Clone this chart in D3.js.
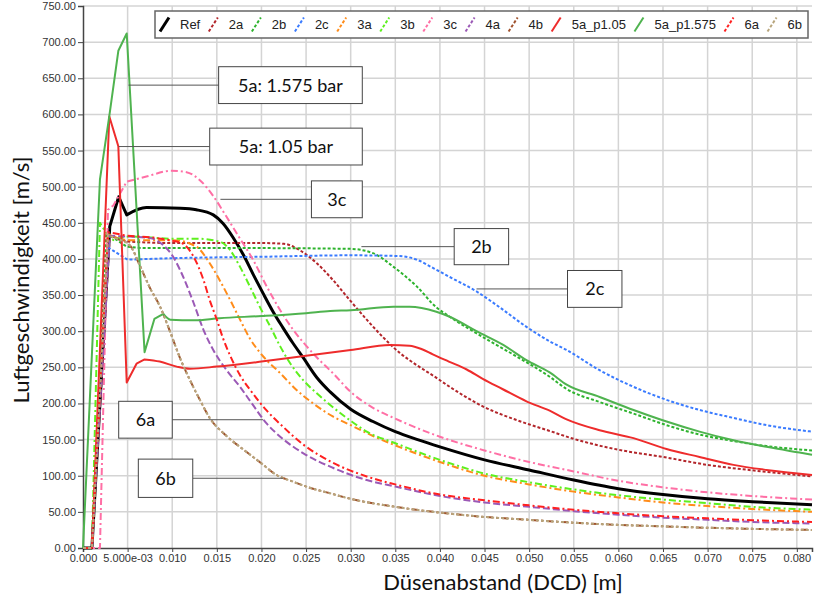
<!DOCTYPE html>
<html>
<head>
<meta charset="utf-8">
<script src="https://cdn.jsdelivr.net/npm/d3@7"></script>
<style>
  html, body { margin: 0; padding: 0; background: #fff; }
  svg { display: block; }
</style>
</head>
<body>
<svg id="chart" width="815" height="606"></svg>
<script>
// Axis ticks and labels
const xTicks = [0, 0.005, 0.010, 0.015, 0.020, 0.025, 0.030, 0.035, 0.040, 0.045, 0.050, 0.055, 0.060, 0.065, 0.070, 0.075, 0.080];
const xTickLabels = ["0.000", "5.000e-03", "0.010", "0.015", "0.020", "0.025", "0.030", "0.035", "0.040", "0.045", "0.050", "0.055", "0.060", "0.065", "0.070", "0.075", "0.080"];
const yTicks = [0, 50, 100, 150, 200, 250, 300, 350, 400, 450, 500, 550, 600, 650, 700, 750];
const yTickLabels = yTicks.map(v => v.toFixed(2));

// Series names (legend order)
const seriesNames = ["Ref", "2a", "2b", "2c", "3a", "3b", "3c", "4a", "4b", "5a_p1.05", "5a_p1.575", "6a", "6b"];

// Air velocity [m/s] over nozzle distance [m], one [x, v] list per series
const ref = [[0,0],[0.001,0],[0.003,445],[0.004,486],[0.0049,461],[0.0071,471],[0.0109,470],[0.0127,468],[0.0146,461],[0.0157,449],[0.0168,430],[0.0180,405],[0.0191,378],[0.0202,352],[0.0213,327],[0.0224,305],[0.0235,284],[0.0247,263],[0.0262,236],[0.0277,216],[0.030,192],[0.0325,175],[0.035,161],[0.0375,150],[0.040,140],[0.045,122],[0.050,108],[0.055,94],[0.060,82],[0.065,74],[0.070,68],[0.075,64],[0.0817,60]];
const s2a = [[0,0],[0.001,0],[0.003,432],[0.005,424],[0.010,422],[0.020,422],[0.0225,421],[0.0243,412],[0.0262,394],[0.0280,371],[0.0299,343],[0.0318,316],[0.0336,292],[0.0355,270],[0.0374,253],[0.0393,238],[0.0411,223],[0.0448,196],[0.0486,177],[0.0523,162],[0.055,151],[0.060,136],[0.065,126],[0.070,115],[0.075,107.5],[0.0817,99]];
const s2b = [[0,0],[0.001,0],[0.0026,436],[0.0049,417],[0.007,415],[0.0187,415],[0.0299,414],[0.0325,408],[0.0348,389],[0.0374,362],[0.0396,333],[0.0411,320],[0.0448,292],[0.0486,265],[0.0523,237],[0.0542,220],[0.0579,202],[0.0617,186],[0.0654,170],[0.0691,157],[0.0729,148],[0.0766,141],[0.0817,135]];
const s2c = [[0,0],[0.001,0],[0.0028,416],[0.005,399],[0.010,401],[0.020,403],[0.030,405],[0.0355,404],[0.0374,399],[0.0393,387],[0.0411,375],[0.0441,355],[0.0467,333],[0.0497,306],[0.0523,286],[0.0542,274],[0.0579,246],[0.0617,223],[0.0654,205],[0.0691,191],[0.0729,180],[0.0766,170],[0.0817,161]];
const s3a = [[0,0],[0.001,0],[0.0028,435],[0.004,428],[0.0055,426],[0.0101,426],[0.0127,417],[0.0142,394],[0.0153,371],[0.0165,343],[0.0176,316],[0.0187,290],[0.0202,265],[0.0221,242],[0.0239,219],[0.0258,200],[0.0280,182],[0.030,170],[0.0325,155],[0.035,142],[0.040,119],[0.045,100],[0.050,88],[0.055,78],[0.060,70],[0.065,63],[0.070,58],[0.075,54],[0.0817,50]];
const s3b = [[0,0],[0.001,0],[0.0019,450],[0.0026,436],[0.0034,426],[0.0053,431],[0.010,428],[0.0127,428],[0.0153,424],[0.0165,412],[0.0176,389],[0.0187,362],[0.0198,334],[0.0210,306],[0.0221,279],[0.0232,256],[0.0247,232],[0.0262,214],[0.0277,198],[0.030,176],[0.0318,161],[0.035,145],[0.040,122],[0.045,103],[0.050,91],[0.055,81],[0.060,73],[0.065,67],[0.070,62],[0.075,57],[0.0817,53]];
const s3c = [[0,0],[0.0019,0],[0.0028,468],[0.0034,474],[0.0049,507],[0.0071,514],[0.0099,522],[0.0116,520],[0.0131,509],[0.0146,487],[0.0160,460],[0.0175,430],[0.0191,398],[0.0205,364],[0.0220,331],[0.0235,303],[0.0250,280],[0.0265,260],[0.0280,242],[0.030,216],[0.0325,194],[0.035,179],[0.040,154],[0.045,135],[0.050,119],[0.055,106],[0.060,93],[0.065,84],[0.070,77],[0.075,72],[0.0817,67]];
const s4a = [[0,0],[0.001,0],[0.003,432],[0.005,431],[0.0075,429],[0.009,419],[0.0101,403],[0.0112,376],[0.0124,339],[0.0135,302],[0.0146,274],[0.0161,246],[0.0176,223],[0.0187,204],[0.0206,172],[0.0224,151],[0.0247,131],[0.028,111],[0.0318,94],[0.035,85],[0.040,72],[0.045,63],[0.050,57],[0.055,51],[0.060,46],[0.065,42],[0.070,39],[0.075,36],[0.0817,34]];
const s4b = [[0,0],[0.001,0],[0.0028,433],[0.004,427],[0.0053,418],[0.0064,390],[0.0075,360],[0.0086,335],[0.0098,298],[0.0109,262],[0.012,232],[0.0131,205],[0.0142,180],[0.0161,155],[0.018,136],[0.0198,119],[0.0217,101],[0.0235,92],[0.0255,83],[0.0273,77],[0.030,68],[0.035,57],[0.040,49],[0.045,43],[0.050,39],[0.055,35],[0.060,32],[0.065,30],[0.070,28],[0.075,26.5],[0.0817,25]];
const s5a105 = [[0,0],[0.001,0],[0.00295,597],[0.00396,556],[0.0049,229],[0.006,255],[0.0069,261],[0.0086,258],[0.0105,251],[0.0120,248],[0.015,251],[0.020,258],[0.025,266],[0.030,274],[0.0344,281],[0.0366,280],[0.0380,275],[0.0392,268],[0.041,258],[0.043,247],[0.0448,234],[0.047,220],[0.0497,203],[0.0523,190],[0.0542,178],[0.0579,163],[0.0617,152],[0.0654,137],[0.0691,126],[0.0729,115],[0.0766,108],[0.0817,101]];
const s5a1575 = [[0,0],[0.0019,510],[0.00295,598],[0.00396,688],[0.0049,712],[0.0069,271],[0.0080,317],[0.0090,324],[0.0098,316],[0.0124,315],[0.0153,318],[0.020,321],[0.025,325],[0.0277,328],[0.030,329],[0.0348,334],[0.0366,334],[0.0396,327],[0.0411,320],[0.0441,300],[0.0471,281],[0.0497,260],[0.0523,243],[0.0542,226],[0.0579,209],[0.0617,191],[0.0654,175],[0.0691,161],[0.0729,149],[0.0766,140],[0.0803,132],[0.0817,129]];
const s6a = [[0,0],[0.001,0],[0.0028,437],[0.005,432],[0.0101,425],[0.0112,421],[0.0124,403],[0.0135,371],[0.0142,343],[0.0150,316],[0.0157,290],[0.0165,266],[0.0176,239],[0.0189,216],[0.0206,190],[0.0224,168],[0.0247,143],[0.028,118],[0.0318,99],[0.035,88],[0.040,74],[0.045,66],[0.050,59],[0.055,53],[0.060,48],[0.065,44],[0.070,41],[0.075,38.5],[0.0817,36]];
const s6b = [[0,0],[0.001,0],[0.0028,433],[0.004,427],[0.0053,418],[0.0064,390],[0.0075,360],[0.0086,335],[0.0098,298],[0.0109,262],[0.012,232],[0.0131,205],[0.0142,180],[0.0161,155],[0.018,136],[0.0198,119],[0.0217,101],[0.0235,92],[0.0255,83],[0.0273,77],[0.030,68],[0.035,57],[0.040,49],[0.045,43],[0.050,39],[0.055,35],[0.060,32],[0.065,30],[0.070,28],[0.075,26.5],[0.0817,25]];

const seriesValues = [ref, s2a, s2b, s2c, s3a, s3b, s3c, s4a, s4b, s5a105, s5a1575, s6a, s6b];

// Line styles per series
const seriesColors = ["#000000", "#b3262b", "#2db32d", "#3a7bff", "#ff8c1a", "#5ef01e", "#ff6fa5", "#9b59b6", "#a0522d", "#ee2c2c", "#4fb34f", "#ff2020", "#b8a57c"];
const seriesDash = [null, "3,2", "3,2", "3,2", "7,3,2,3", "7,3,2,3", "7,3,2,3", "7,3", "7,3,2,3", null, null, "7,3,2,3", "3,2"];
const seriesWidth = [3, 2, 2, 2, 2, 2, 2, 2, 2, 2, 2, 2, 2];
// Number of leading points joined by straight segments (sharp inlet peaks); the rest is smoothed
const straightCount = [5, 4, 4, 4, 4, 5, 5, 4, 4, 7, 8, 4, 4];

// Callout boxes: label, box extent [x0, x1] in m and [top, bottom] in m/s, tip x in m
const calloutLabels = ["5a: 1.575 bar", "5a: 1.05 bar", "3c", "2b", "2c", "6a", "6b"];
const calloutBoxX = [[0.0152, 0.0313], [0.0142, 0.0313], [0.0256, 0.0313], [0.0416, 0.0477], [0.0543, 0.0604], [0.0040, 0.0100], [0.0062, 0.0123]];
const calloutBoxY = [[666, 615], [581, 530], [508, 457], [442, 392], [384, 333], [203, 152], [123, 70]];
const calloutTipX = [0.0051, 0.0040, 0.0154, 0.0312, 0.0441, 0.0202, 0.0224];

const svg = d3.select("#chart");
const W = 815, H = 606;
const margin = { left: 83, right: 3, top: 6, bottom: 58 };

const x = d3.scaleLinear().domain([0, 0.0817]).range([margin.left, W - margin.right]);
const y = d3.scaleLinear().domain([0, 750]).range([H - margin.bottom, margin.top]);

// Grid
const grid = svg.append("g").attr("class", "grid");
grid.selectAll("line.vx").data(xTicks.slice(1)).enter().append("line")
  .attr("x1", d => x(d)).attr("x2", d => x(d))
  .attr("y1", y(0)).attr("y2", y(750))
  .attr("stroke", "#d4d4d4").attr("stroke-width", 1.5);
grid.selectAll("line.hy").data(yTicks.slice(1)).enter().append("line")
  .attr("x1", x(0)).attr("x2", x.range()[1])
  .attr("y1", d => y(d)).attr("y2", d => y(d))
  .attr("stroke", "#d4d4d4").attr("stroke-width", 1.5);

// Axes
const xAxis = d3.axisBottom(x).tickValues(xTicks).tickSize(4).tickPadding(2)
  .tickFormat((d, i) => xTickLabels[i]);
const yAxis = d3.axisLeft(y).tickValues(yTicks).tickSize(5).tickPadding(2)
  .tickFormat((d, i) => yTickLabels[i]);

const gx = svg.append("g").attr("transform", `translate(0,${y(0)})`).call(xAxis);
const gy = svg.append("g").attr("transform", `translate(${x(0)},0)`).call(yAxis);
[gx, gy].forEach(g => {
  g.select(".domain").attr("stroke", "#444").attr("stroke-width", 1.5);
  g.selectAll(".tick line").attr("stroke", "#444");
  g.selectAll(".tick text").attr("fill", "#333")
    .style("font-family", "'Liberation Sans', Arial, sans-serif").style("font-size", "11px");
});

// Series lines: straight inlet segments followed by a smooth decay
const straight = d3.line().x(d => x(d[0])).y(d => y(d[1])).curve(d3.curveLinear);
const smooth = d3.line().x(d => x(d[0])).y(d => y(d[1])).curve(d3.curveMonotoneX);
const plot = svg.append("g");
seriesValues.forEach((vals, i) => {
  const k = straightCount[i];
  const head = straight(vals.slice(0, k));
  const tail = smooth(vals.slice(k - 1)).replace(/^M/, "L");
  plot.append("path")
    .attr("d", head + tail)
    .attr("fill", "none")
    .attr("stroke", seriesColors[i])
    .attr("stroke-width", seriesWidth[i])
    .attr("stroke-dasharray", seriesDash[i])
    .attr("stroke-linejoin", "round");
});

// Callouts
const callouts = svg.append("g");
calloutLabels.forEach((lab, i) => {
  const bx0 = x(calloutBoxX[i][0]), bx1 = x(calloutBoxX[i][1]);
  const by0 = y(calloutBoxY[i][0]), by1 = y(calloutBoxY[i][1]);
  const cy = (by0 + by1) / 2;
  const tip = x(calloutTipX[i]);
  const edge = tip < bx0 ? bx0 : bx1;
  callouts.append("line")
    .attr("x1", tip).attr("x2", edge).attr("y1", cy).attr("y2", cy)
    .attr("stroke", "#555").attr("stroke-width", 1);
  callouts.append("rect")
    .attr("x", bx0).attr("y", by0).attr("width", bx1 - bx0).attr("height", by1 - by0)
    .attr("fill", "#fff").attr("stroke", "#444").attr("stroke-width", 1);
  callouts.append("text")
    .attr("x", (bx0 + bx1) / 2).attr("y", cy).attr("dy", "0.36em")
    .attr("text-anchor", "middle")
    .style("font-family", "Lato, 'Open Sans', sans-serif").style("font-size", "18px")
    .attr("fill", "#111").text(lab);
});

// Legend
const legend = svg.append("g");
const legLeft = 155, legRight = 808, legTop = 11, legBottom = 38;
legend.append("rect").attr("x", legLeft).attr("y", legTop)
  .attr("width", legRight - legLeft).attr("height", legBottom - legTop)
  .attr("fill", "#fff").attr("stroke", "#666").attr("stroke-width", 1.5);
const labelNodes = seriesNames.map(n => legend.append("text")
  .style("font-family", "'Liberation Sans', Arial, sans-serif").style("font-size", "13px")
  .attr("fill", "#222").text(n));
const widths = labelNodes.map(t => t.node().getComputedTextLength());
const swatchToLabel = 20;
const inner = (legRight - 6) - (legLeft + 5);
const gap = (inner - d3.sum(widths) - seriesNames.length * swatchToLabel) / (seriesNames.length - 1);
let cx = legLeft + 5;
const legMid = (legTop + legBottom) / 2;
seriesNames.forEach((n, i) => {
  legend.append("line")
    .attr("x1", cx).attr("y1", legMid + 7).attr("x2", cx + 9).attr("y2", legMid - 7)
    .attr("stroke", seriesColors[i]).attr("stroke-width", i === 0 ? 3 : 2)
    .attr("stroke-dasharray", seriesDash[i] ? "3,2" : null);
  labelNodes[i].attr("x", cx + swatchToLabel).attr("y", legMid).attr("dy", "0.36em");
  cx += swatchToLabel + widths[i] + gap;
});

// Axis titles
svg.append("text")
  .attr("x", 503).attr("y", 590).attr("text-anchor", "middle")
  .style("font-family", "Lato, 'Open Sans', sans-serif").style("font-size", "22px")
  .attr("fill", "#111").text("Düsenabstand (DCD) [m]");
svg.append("text")
  .attr("transform", "translate(29,280) rotate(-90)").attr("text-anchor", "middle")
  .style("font-family", "Lato, 'Open Sans', sans-serif").style("font-size", "22px")
  .attr("fill", "#111").text("Luftgeschwindigkeit [m/s]");
</script>
</body>
</html>
